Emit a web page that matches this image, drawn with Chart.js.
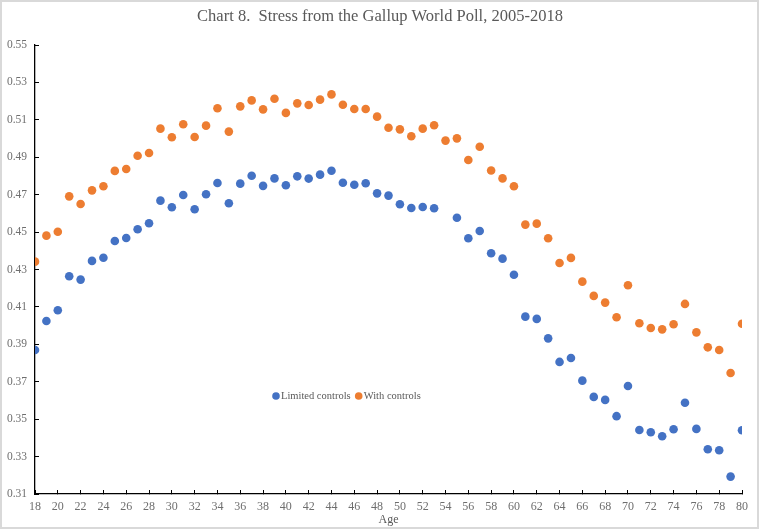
<!DOCTYPE html>
<html>
<head>
<meta charset="utf-8">
<script src="https://cdn.jsdelivr.net/npm/chart.js@4/dist/chart.umd.min.js"></script>
<style>
  body { margin: 0; background: #fff; }
  canvas { display: block; }
</style>
</head>
<body>
<canvas id="stressChart" width="761" height="530"></canvas>
<script>
// Data
const ages = [18,19,20,21,22,23,24,25,26,27,28,29,30,31,32,33,34,35,36,37,38,39,40,41,42,43,44,45,46,47,48,49,
  50,51,52,53,54,55,56,57,58,59,60,61,62,63,64,65,66,67,68,69,70,71,72,73,74,75,76,77,78,79,80];
const limitedControls = [0.3870,0.4025,0.4082,0.4264,0.4246,0.4346,0.4363,0.4452,0.4468,0.4515,0.4547,0.4668,0.4633,
  0.4698,0.4622,0.4702,0.4762,0.4654,0.4759,0.4801,0.4747,0.4787,0.4750,0.4798,0.4786,0.4807,0.4828,0.4764,0.4753,
  0.4761,0.4707,0.4695,0.4649,0.4629,0.4634,0.4627,null,0.4577,0.4467,0.4506,0.4387,0.4358,0.4272,0.4048,0.4036,
  0.3932,0.3806,0.3827,0.3706,0.3619,0.3603,0.3516,0.3677,0.3442,0.3430,0.3409,0.3446,0.3588,0.3448,0.3339,0.3334,
  0.3193,0.3441];
const withControls = [0.4342,0.4481,0.4502,0.4691,0.4650,0.4723,0.4745,0.4827,0.4837,0.4908,0.4923,0.5053,0.5007,
  0.5076,0.5008,0.5069,0.5162,0.5037,0.5172,0.5204,0.5156,0.5213,0.5137,0.5188,0.5179,0.5208,0.5236,0.5181,0.5158,
  0.5158,0.5117,0.5058,0.5049,0.5012,0.5053,0.5071,0.4989,0.5001,0.4885,0.4956,0.4829,0.4787,0.4745,0.4540,0.4545,
  0.4467,0.4335,0.4362,0.4235,0.4159,0.4123,0.4045,0.4216,0.4013,0.3987,0.3980,0.4007,0.4116,0.3964,0.3884,0.3870,
  0.3747,0.4010];
const xTicks = [18,20,22,24,26,28,30,32,34,36,38,40,42,44,46,48,50,52,54,56,58,60,62,64,66,68,70,72,74,76,78,80];
const yTicks = [0.31,0.33,0.35,0.37,0.39,0.41,0.43,0.45,0.47,0.49,0.51,0.53,0.55];
const chartTitle = 'Chart 8.  Stress from the Gallup World Poll, 2005-2018';

const BLUE = '#4472C4';
const ORANGE = '#ED7D31';
const GREY = '#595959';
const LABEL_GREY = '#6e6e6e';
const SERIF = '"Liberation Serif", "Times New Roman", serif';

function toPoints(vals) {
    return ages.map((a, i) => ({ x: a, y: vals[i] }));
}

// Frame, title centred on the whole picture, and the legend inside the plot
const decor = {
    id: 'decor',
    beforeDraw(chart) {
        const ctx = chart.ctx;
        ctx.save();
        ctx.fillStyle = '#fff';
        ctx.fillRect(0, 0, chart.width, chart.height);
        ctx.restore();
    },
    afterDraw(chart) {
        const ctx = chart.ctx;
        ctx.save();
        ctx.strokeStyle = '#d9d9d9';
        ctx.lineWidth = 2;
        ctx.strokeRect(1, 1, chart.width - 4, chart.height - 3);

        ctx.fillStyle = GREY;
        ctx.font = '16.5px ' + SERIF;
        ctx.textAlign = 'center';
        ctx.textBaseline = 'middle';
        ctx.fillText(chartTitle, 380, 17);

        // legend
        ctx.textAlign = 'left';
        ctx.font = '10.5px ' + SERIF;
        let x = 276, y = 396;
        chart.data.datasets.forEach(ds => {
            ctx.fillStyle = ds.backgroundColor;
            ctx.beginPath();
            ctx.arc(x, y, 3.8, 0, Math.PI * 2);
            ctx.fill();
            ctx.fillStyle = GREY;
            ctx.fillText(ds.label, x + 5, y + 0.5);
            x += 5 + ctx.measureText(ds.label).width + 8;
        });
        ctx.restore();
    }
};

new Chart(document.getElementById('stressChart'), {
    type: 'scatter',
    data: {
        datasets: [{
            label: 'Limited controls',
            data: toPoints(limitedControls),
            backgroundColor: BLUE,
            borderColor: BLUE,
            pointRadius: 4.3,
            pointBorderWidth: 0
        }, {
            label: 'With controls',
            data: toPoints(withControls),
            backgroundColor: ORANGE,
            borderColor: ORANGE,
            pointRadius: 4.3,
            pointBorderWidth: 0
        }]
    },
    options: {
        responsive: false,
        animation: false,
        layout: { padding: { left: 0, right: 19, top: 45, bottom: 3 } },
        plugins: {
            legend: { display: false },
            tooltip: { enabled: false },
            title: { display: false }
        },
        scales: {
            x: {
                type: 'linear',
                min: 18,
                max: 80,
                afterBuildTicks: s => { s.ticks = xTicks.map(v => ({ value: v })); },
                afterFit: s => { s.height = 33; },
                ticks: { color: LABEL_GREY, font: { family: SERIF, size: 12 }, padding: 10, maxRotation: 0, autoSkip: false },
                // negative length puts the tick marks inside the plot like the original
                grid: { drawOnChartArea: false, drawTicks: true, tickLength: -4, color: '#000' },
                border: { color: '#000', width: 1.3 },
                title: {
                    display: true, text: 'Age', color: GREY,
                    font: { family: SERIF, size: 12 }, padding: { top: 0, bottom: 0 }
                }
            },
            y: {
                min: 0.31,
                max: 0.55,
                afterBuildTicks: s => { s.ticks = yTicks.map(v => ({ value: v })); },
                afterFit: s => { s.width = 35; },
                ticks: {
                    color: LABEL_GREY, font: { family: SERIF, size: 11.5 }, padding: 12,
                    callback: v => v.toFixed(2)
                },
                grid: { drawOnChartArea: false, drawTicks: true, tickLength: -4, color: '#000' },
                border: { color: '#000', width: 1.3 }
            }
        }
    },
    plugins: [decor]
});
</script>
</body>
</html>
